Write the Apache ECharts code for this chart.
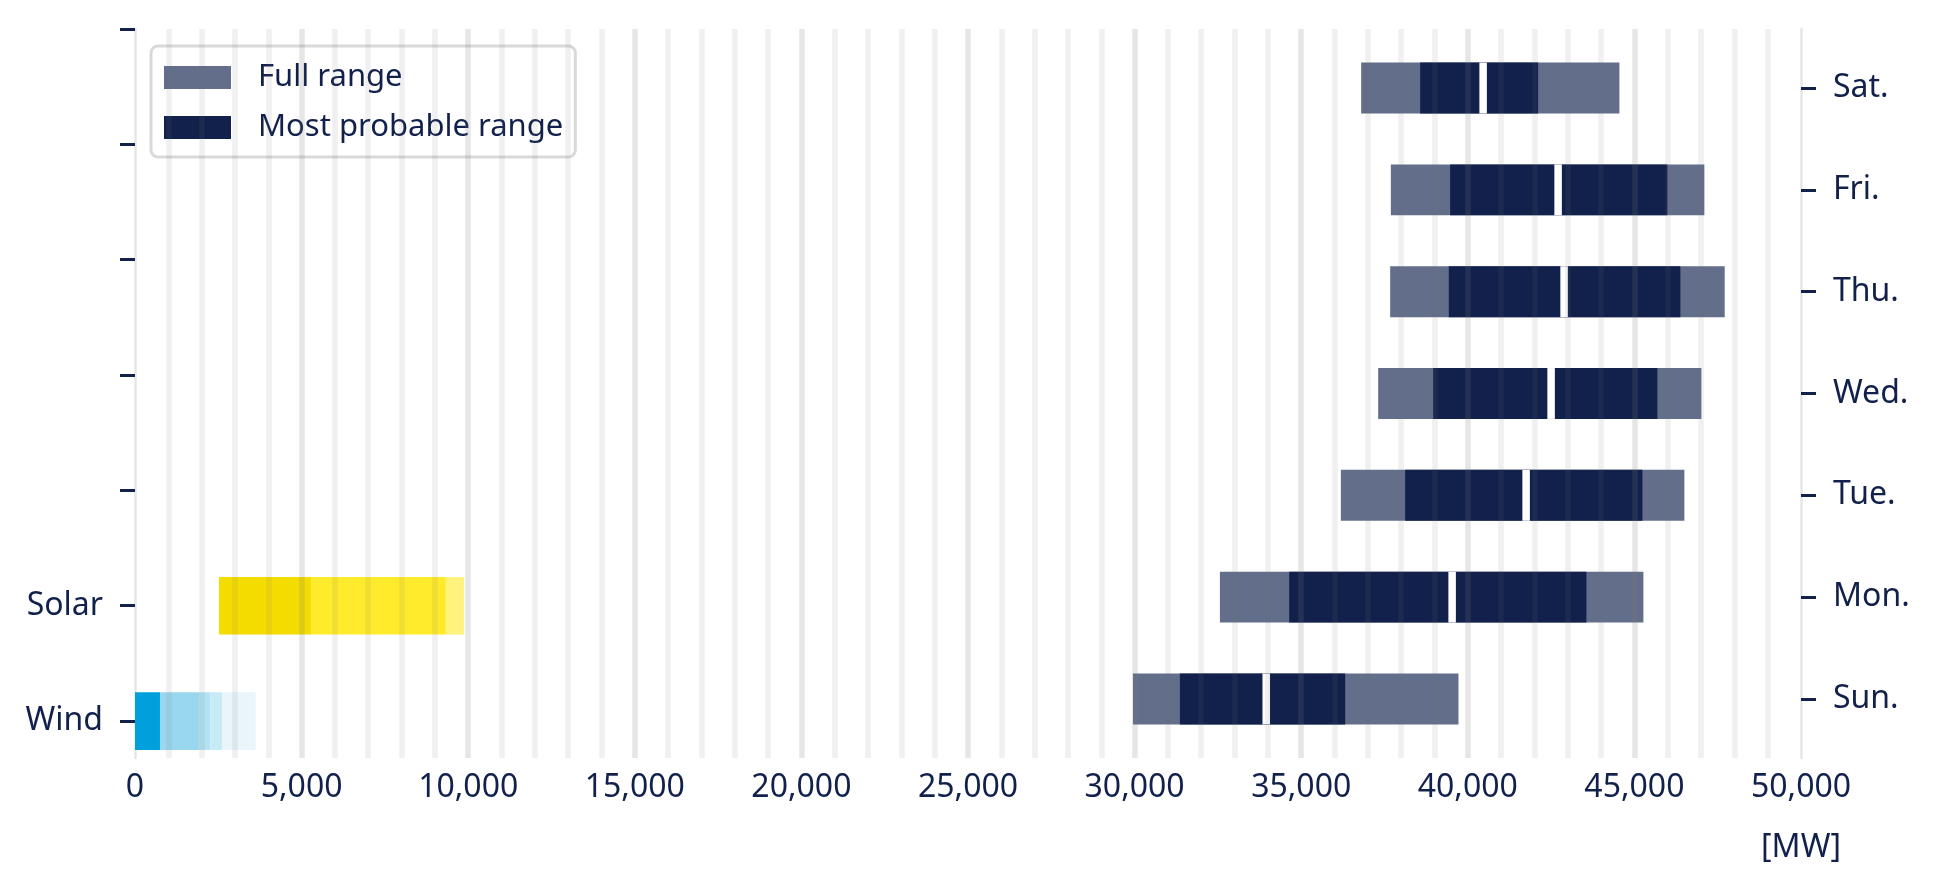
<!DOCTYPE html>
<html lang="en">
<head>
    <meta charset="UTF-8">
    <title>Demand ranges</title>
    <script src="https://cdn.jsdelivr.net/npm/echarts@6.0.0/dist/echarts.min.js"></script>
    <style>
        html, body { margin: 0; padding: 0; background: #fff; }
    </style>
</head>
<body>
<div id="main" style="width:1937px;height:894px;"></div>
<script>
    // rows on the right axis, bottom to top
    var days = ['Sun.', 'Mon.', 'Tue.', 'Wed.', 'Thu.', 'Fri.', 'Sat.'];
    var fullLow  = [29950, 32560, 36190, 37310, 37670, 37690, 36800];
    var fullHigh = [39720, 45270, 46500, 47010, 47710, 47100, 44550];
    var probLow  = [31360, 34640, 38120, 38960, 39430, 39470, 38570];
    var probHigh = [36320, 43560, 45240, 45690, 46380, 45990, 42110];
    var probMid  = [33950, 39530, 41750, 42500, 42890, 42710, 40460];

    // rows on the left axis, bottom to top
    var leftCats = ['Wind', 'Solar', '', '', '', '', ''];
    var windEdges  = [0, 750, 1920, 2260, 2610, 3620];
    var solarEdges = [2520, 5280, 9330, 9870];

    var xTicks = [0, 5000, 10000, 15000, 20000, 25000, 30000, 35000, 40000, 45000, 50000];

    var navy = '#11214b';
    var windShades  = ['#00a0dc', '#98d7ee', '#b2e2f3', '#c6eaf6', '#e9f5fb'];
    var solarShades = ['#f5dc00', '#ffeb2b', '#fff27d'];

    function segments(edges, row) {
        var out = [];
        for (var i = 0; i < edges.length - 1; i++) {
            out.push([edges[i], edges[i + 1], row, i]);
        }
        return out;
    }

    function rectOf(api, lo, hi, row) {
        var a = api.coord([lo, row]);
        var b = api.coord([hi, row]);
        var h = api.size([0, 0.5])[1];
        return { x: a[0], y: a[1] - h / 2, width: b[0] - a[0], height: h };
    }

    function shadedBar(shades) {
        return function (params, api) {
            return {
                type: 'rect',
                shape: rectOf(api, api.value(0), api.value(1), api.value(2)),
                style: { fill: shades[api.value(3)] }
            };
        };
    }

    var fullData = [], probData = [];
    for (var i = 0; i < days.length; i++) {
        fullData.push([fullLow[i], fullHigh[i], i]);
        probData.push([probLow[i], probHigh[i], i, probMid[i]]);
    }

    var myChart = echarts.init(document.getElementById('main'));
    var font = 'Noto Sans';

    var option = {
        animation: false,
        textStyle: { fontFamily: font, color: navy },
        grid: { left: 135, right: 136, top: 29, bottom: 136 },
        legend: {
            data: ['Full range', 'Most probable range'],
            orient: 'vertical',
            left: 151,
            top: 46,
            icon: 'rect',
            itemWidth: 67,
            itemHeight: 23,
            itemGap: 19,
            padding: [16, 12, 14, 13],
            borderColor: '#d9d9d9',
            borderWidth: 3,
            borderRadius: 7,
            backgroundColor: 'rgba(255,255,255,0.85)',
            textStyle: { fontFamily: font, fontSize: 31, color: navy, padding: [0, 0, 0, 22] }
        },
        xAxis: {
            type: 'value',
            min: 0,
            max: 50000,
            interval: 5000,
            z: 10,
            axisLine: { show: false },
            axisTick: { show: false },
            axisLabel: {
                fontFamily: font,
                fontSize: 32,
                color: navy,
                margin: 14,
                formatter: function (v) {
                    return xTicks.indexOf(v) >= 0 ? v.toLocaleString('en-US') : '';
                }
            },
            splitLine: {
                show: true,
                showMinLine: false,
                showMaxLine: false,
                lineStyle: { color: 'rgba(120,120,120,0.19)', width: 5.5 }
            },
            minorTick: { show: false, splitNumber: 5 },
            minorSplitLine: {
                show: true,
                lineStyle: { color: 'rgba(120,120,120,0.11)', width: 5.5 }
            }
        },
        yAxis: [
            {
                type: 'value',
                position: 'left',
                min: -0.32,
                max: 6,
                axisLine: { show: true, lineStyle: { color: '#e6e6e6', width: 2.5 } },
                axisTick: {
                    show: true,
                    length: 15,
                    customValues: [0, 1, 2, 3, 4, 5, 6],
                    lineStyle: { color: navy, width: 3 }
                },
                axisLabel: {
                    fontFamily: font,
                    fontSize: 32,
                    color: navy,
                    margin: 32,
                    customValues: [0, 1],
                    formatter: function (v) { return leftCats[Math.round(v)] || ''; }
                },
                splitLine: { show: false }
            },
            {
                type: 'value',
                position: 'right',
                min: -0.58,
                max: 6.58,
                axisLine: { show: true, lineStyle: { color: '#e6e6e6', width: 2.5 } },
                axisTick: {
                    show: true,
                    length: 15,
                    customValues: [0, 1, 2, 3, 4, 5, 6],
                    lineStyle: { color: navy, width: 3 }
                },
                axisLabel: {
                    fontFamily: font,
                    fontSize: 32,
                    color: navy,
                    margin: 32,
                    customValues: [0, 1, 2, 3, 4, 5, 6],
                    formatter: function (v) { return days[Math.round(v)] || ''; }
                },
                splitLine: { show: false }
            }
        ],
        graphic: [{
            type: 'text',
            x: 1801,
            y: 848,
            style: {
                text: '[MW]',
                fontFamily: font,
                fontSize: 32,
                fill: navy,
                textAlign: 'center',
                textVerticalAlign: 'middle'
            }
        }],
        series: [
            {
                name: 'Wind',
                type: 'custom',
                yAxisIndex: 0,
                encode: { x: [0, 1], y: 2 },
                renderItem: shadedBar(windShades),
                data: segments(windEdges, 0)
            },
            {
                name: 'Solar',
                type: 'custom',
                yAxisIndex: 0,
                encode: { x: [0, 1], y: 2 },
                renderItem: shadedBar(solarShades),
                data: segments(solarEdges, 1)
            },
            {
                name: 'Full range',
                type: 'custom',
                yAxisIndex: 1,
                itemStyle: { color: '#636e8a' },
                encode: { x: [0, 1], y: 2 },
                renderItem: function (params, api) {
                    return {
                        type: 'rect',
                        shape: rectOf(api, api.value(0), api.value(1), api.value(2)),
                        style: { fill: '#636e8a' }
                    };
                },
                data: fullData
            },
            {
                name: 'Most probable range',
                type: 'custom',
                yAxisIndex: 1,
                itemStyle: { color: navy },
                encode: { x: [0, 1], y: 2 },
                renderItem: function (params, api) {
                    var r = rectOf(api, api.value(0), api.value(1), api.value(2));
                    var m = api.coord([api.value(3), api.value(2)]);
                    return {
                        type: 'group',
                        children: [
                            { type: 'rect', shape: r, style: { fill: navy } },
                            {
                                type: 'line',
                                shape: { x1: m[0], y1: r.y, x2: m[0], y2: r.y + r.height },
                                style: { stroke: '#ffffff', lineWidth: 7.5 }
                            }
                        ]
                    };
                },
                data: probData
            }
        ]
    };

    myChart.setOption(option);
</script>
</body>
</html>
